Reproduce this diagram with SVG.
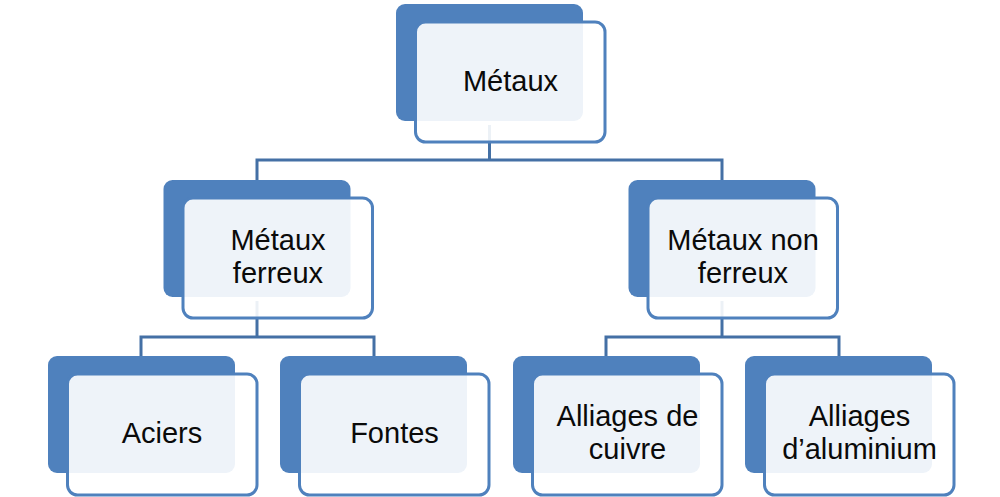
<svg xmlns="http://www.w3.org/2000/svg" width="1000" height="497" viewBox="0 0 1000 497">
  <style>
    .back { fill: #4F81BD; }
    .front { fill: #FFFFFF; fill-opacity: 0.9; stroke: #4F81BD; stroke-width: 3; }
    .conn { fill: none; stroke: #4470A5; stroke-width: 3; stroke-linejoin: miter; }
    .lbl { font-family: "Liberation Sans", Arial, sans-serif; font-size: 29px; fill: #0A0A0A; text-anchor: middle; }
  </style>
  <rect width="1000" height="497" fill="#FFFFFF"/>
  <g id="connectors">
    <path class="conn" d="M489.5,125 V160"/>
    <path class="conn" d="M257,182 V160 H722 V182"/>
    <path class="conn" d="M257,301 V337"/>
    <path class="conn" d="M141,356 V337 H374 V356"/>
    <path class="conn" d="M722,301 V337"/>
    <path class="conn" d="M606,356 V337 H839 V356"/>
  </g>
  <g id="node-metaux">
    <rect class="back" x="396" y="4" width="187" height="117" rx="9"/>
    <rect class="front" x="415.5" y="22" width="189.5" height="120" rx="10"/>
    <text class="lbl" x="510.5" y="90.5">Métaux</text>
  </g>
  <g id="node-ferreux">
    <rect class="back" x="163.5" y="180" width="187" height="117" rx="9"/>
    <rect class="front" x="183" y="198" width="189.5" height="120" rx="10"/>
    <text class="lbl" x="278"><tspan x="278" y="250">Métaux</tspan><tspan x="278" y="283.3">ferreux</tspan></text>
  </g>
  <g id="node-non-ferreux">
    <rect class="back" x="628.5" y="180" width="187" height="117" rx="9"/>
    <rect class="front" x="648" y="198" width="189.5" height="120" rx="10"/>
    <text class="lbl" x="743"><tspan x="743" y="250">Métaux non</tspan><tspan x="743" y="283.3">ferreux</tspan></text>
  </g>
  <g id="node-aciers">
    <rect class="back" x="48" y="356" width="187" height="117" rx="9"/>
    <rect class="front" x="67.5" y="374" width="189.5" height="121" rx="10"/>
    <text class="lbl" x="162" y="442.5">Aciers</text>
  </g>
  <g id="node-fontes">
    <rect class="back" x="280" y="356" width="187" height="117" rx="9"/>
    <rect class="front" x="299.5" y="374" width="189.5" height="121" rx="10"/>
    <text class="lbl" x="394.5" y="442.5">Fontes</text>
  </g>
  <g id="node-cuivre">
    <rect class="back" x="513" y="356" width="187" height="117" rx="9"/>
    <rect class="front" x="532.5" y="374" width="189.5" height="121" rx="10"/>
    <text class="lbl" x="627.5"><tspan x="627.5" y="426">Alliages de</tspan><tspan x="627.5" y="459">cuivre</tspan></text>
  </g>
  <g id="node-aluminium">
    <rect class="back" x="745" y="356" width="187" height="117" rx="9"/>
    <rect class="front" x="764.5" y="374" width="189.5" height="121" rx="10"/>
    <text class="lbl" x="859.5"><tspan x="859.5" y="426">Alliages</tspan><tspan x="859.5" y="459">d’aluminium</tspan></text>
  </g>
</svg>
